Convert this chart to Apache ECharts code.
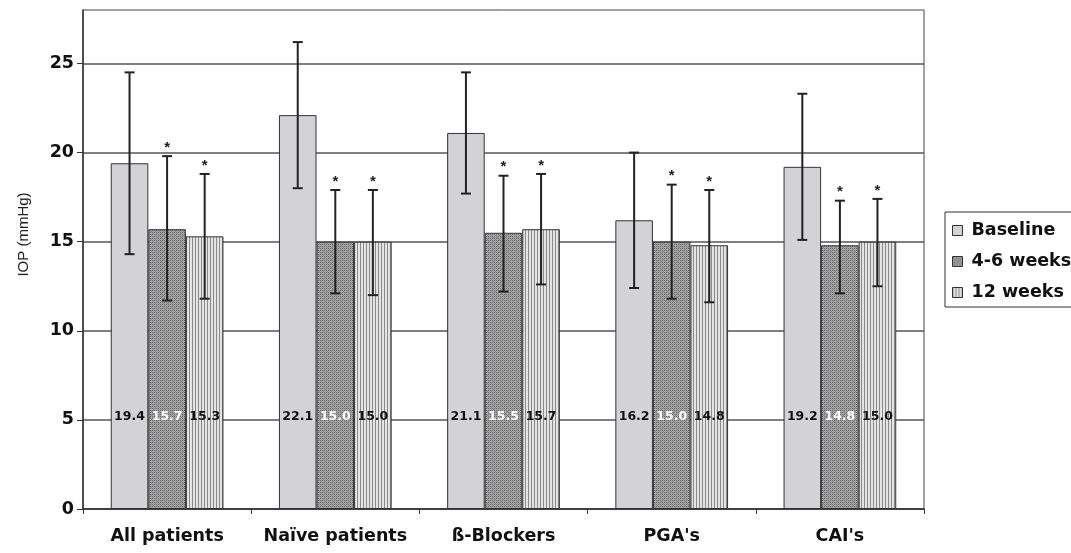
<!DOCTYPE html>
<html><head><meta charset="utf-8">
<script src="https://cdn.jsdelivr.net/npm/echarts@6/dist/echarts.min.js"></script>
<style>html,body{margin:0;padding:0;background:#fff}#c{width:1071px;height:553px}</style>
</head><body><div id="c"></div>
<script>
const categories = ['All patients', 'Naïve patients', 'ß-Blockers', "PGA's", "CAI's"];
const seriesNames = ['Baseline', '4-6 weeks', '12 weeks'];
const baseline = [19.4, 22.1, 21.1, 16.2, 19.2];
const weeks46 = [15.7, 15.0, 15.5, 15.0, 14.8];
const weeks12 = [15.3, 15.0, 15.7, 14.8, 15.0];
const baselineHigh = [24.5, 26.2, 24.5, 20.0, 23.3];
const baselineLow = [14.3, 18.0, 17.7, 12.4, 15.1];
const weeks46High = [19.8, 17.9, 18.7, 18.2, 17.3];
const weeks46Low = [11.7, 12.1, 12.2, 11.8, 12.1];
const weeks12High = [18.8, 17.9, 18.8, 17.9, 17.4];
const weeks12Low = [11.8, 12.0, 12.6, 11.6, 12.5];
const significant = [false, true, true]; // asterisk over 4-6 and 12 weeks
const yTicks = [0, 5, 10, 15, 20, 25];

const FONT = '"Liberation Sans", Arial, Helvetica, sans-serif';
const BFONT = '"DejaVu Sans", "Liberation Sans", Arial, sans-serif';

function makeChecker() {
  const c = document.createElement('canvas');
  c.width = 4; c.height = 4;
  const g = c.getContext('2d');
  g.fillStyle = '#a4a4a4'; g.fillRect(0, 0, 4, 4);
  g.fillStyle = '#6a6a6a';
  g.fillRect(0, 0, 1, 1); g.fillRect(2, 2, 1, 1);
  g.fillRect(2, 0, 1, 1); g.fillRect(0, 2, 1, 1);
  g.fillStyle = '#868686';
  g.fillRect(1, 1, 1, 1); g.fillRect(3, 3, 1, 1);
  return c;
}
function makeStripes() {
  const c = document.createElement('canvas');
  c.width = 3; c.height = 4;
  const g = c.getContext('2d');
  g.fillStyle = '#e4e4e4'; g.fillRect(0, 0, 3, 4);
  g.fillStyle = '#8a8a8a'; g.fillRect(0, 0, 1, 4);
  return c;
}
const fills = ['#d3d3d5', { image: makeChecker(), repeat: 'repeat' }, { image: makeStripes(), repeat: 'repeat' }];
const labelColors = ['#111', '#fff', '#111'];
const values = [baseline, weeks46, weeks12];
const highs = [baselineHigh, weeks46High, weeks12High];
const lows = [baselineLow, weeks46Low, weeks12Low];

const GRID = { left: 83, right: 147, top: 10, bottom: 44 };
const YMAX = 28;
const CATGAP = 0.33;
const plotH = 553 - GRID.top - GRID.bottom;
const labelDist = 5 * plotH / YMAX - 3;

const chart = echarts.init(document.getElementById('c'), null, { renderer: 'canvas' });

const barSeries = values.map((arr, s) => ({
  name: seriesNames[s],
  type: 'bar',
  data: arr,
  barGap: '0%',
  barCategoryGap: (CATGAP * 100) + '%',
  itemStyle: { color: fills[s], borderColor: '#333', borderWidth: 1 },
  label: {
    show: true, position: 'insideBottom', distance: labelDist,
    formatter: p => p.value.toFixed(1),
    color: labelColors[s], fontFamily: BFONT, fontWeight: 'bold', fontSize: 12.5
  },
  z: 2
}));

const errData = [];
for (let s = 0; s < 3; s++) {
  for (let i = 0; i < categories.length; i++) {
    errData.push([i, lows[s][i], highs[s][i], s]);
  }
}

const errSeries = {
  type: 'custom',
  name: 'err',
  data: errData,
  encode: { x: 0, y: [1, 2] },
  z: 5,
  silent: true,
  renderItem: function (params, api) {
    const i = api.value(0), lo = api.value(1), hi = api.value(2), s = api.value(3);
    const catW = api.size([1, 0])[0];
    const barW = catW * (1 - CATGAP) / 3;
    const pHi = api.coord([i, hi]);
    const pLo = api.coord([i, lo]);
    const x = pHi[0] + (s - 1) * barW;
    const cap = 5;
    const style = { stroke: '#222', lineWidth: 2 };
    const children = [
      { type: 'line', shape: { x1: x, y1: pHi[1], x2: x, y2: pLo[1] }, style: style },
      { type: 'line', shape: { x1: x - cap, y1: pHi[1], x2: x + cap, y2: pHi[1] }, style: style },
      { type: 'line', shape: { x1: x - cap, y1: pLo[1], x2: x + cap, y2: pLo[1] }, style: style }
    ];
    if (significant[s]) {
      children.push({
        type: 'text',
        style: { x: x, y: pHi[1] - 1, text: '*', textAlign: 'center', textVerticalAlign: 'bottom',
          font: 'bold 15px ' + FONT, fill: '#222' }
      });
    }
    return { type: 'group', children: children };
  }
};

chart.setOption({
  backgroundColor: '#fff',
  animation: false,
  grid: Object.assign({ show: true, borderColor: '#444', borderWidth: 1, backgroundColor: 'transparent' }, GRID),
  legend: {
    data: seriesNames,
    orient: 'vertical',
    left: 945, top: 212,
    padding: [9, 40, 5, 7],
    itemGap: 12,
    itemWidth: 10, itemHeight: 10,
    icon: 'rect',
    borderColor: '#333', borderWidth: 1,
    textStyle: { fontFamily: BFONT, fontWeight: 'bold', fontSize: 17.5, lineHeight: 19, color: '#111', padding: [0, 0, 0, 4] },
    itemStyle: { borderColor: '#333', borderWidth: 1 }
  },
  xAxis: {
    type: 'category',
    data: categories,
    axisLine: { lineStyle: { color: '#333', width: 1.5 } },
    axisTick: { show: true, length: 5, interval: 0, lineStyle: { color: '#333' } },
    axisLabel: { interval: 0, fontFamily: BFONT, fontWeight: 'bold', fontSize: 17.5, color: '#111', margin: 18 }
  },
  yAxis: {
    type: 'value',
    min: 0, max: YMAX, interval: 5,
    name: 'IOP (mmHg)',
    nameLocation: 'middle',
    nameGap: 52,
    nameTextStyle: { fontFamily: FONT, fontSize: 15, color: '#222', padding: [0, 0, 0, 50] },
    axisLine: { show: true, lineStyle: { color: '#333', width: 1.5 } },
    axisTick: { show: true, length: 6, customValues: yTicks, lineStyle: { color: '#333' } },
    axisLabel: {
      fontFamily: BFONT, fontWeight: 'bold', fontSize: 17.5, color: '#111', margin: 9,
      customValues: yTicks
    },
    splitLine: { show: true, lineStyle: { color: '#555', width: 1.5 } }
  },
  series: barSeries.concat([errSeries])
});
</script></body></html>
